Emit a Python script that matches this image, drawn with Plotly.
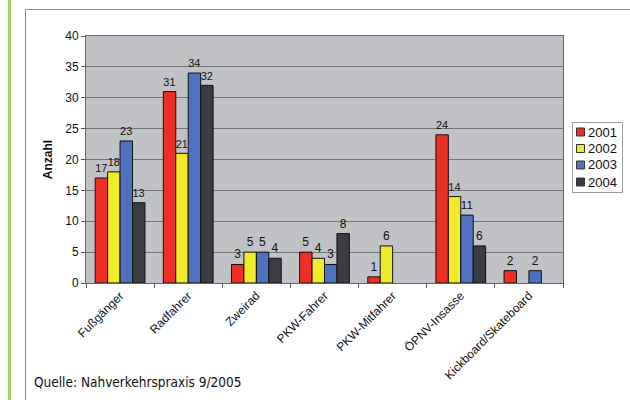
import plotly.graph_objects as go

categories = ["Fußgänger", "Radfahrer", "Zweirad", "PKW-Fahrer", "PKW-Mitfahrer", "ÖPNV-Insasse", "Kickboard/Skateboard"]
years = ["2001", "2002", "2003", "2004"]
v2001 = [17, 31, 3, 5, 1, 24, 2]
v2002 = [18, 21, 5, 4, 6, 14, None]
v2003 = [23, 34, 5, 3, None, 11, 2]
v2004 = [13, 32, 4, 8, None, 6, None]
series = [v2001, v2002, v2003, v2004]
colors = ["#ee2f24", "#f0ea2c", "#4f72bf", "#3b3d40"]

W, H = 630, 400
L, R, T, B = 86, 67, 36, 117
pw, ph = W - L - R, H - T - B

def px(x):
    return (x - L) / pw

def py(y):
    return (H - B - y) / ph

FONT = "Arial, Liberation Sans, sans-serif"

fig = go.Figure()
for name, vals, col in zip(years, series, colors):
    fig.add_trace(go.Bar(
        name=name, x=categories, y=vals,
        marker=dict(color=col, line=dict(color="#111111", width=1)),
        text=[("" if v is None else str(v)) for v in vals],
        textposition="outside", textfont=dict(family=FONT, size=12, color="#111111"),
        cliponaxis=False, showlegend=False,
    ))

fig.update_layout(
    width=W, height=H, margin=dict(l=L, r=R, t=T, b=B, autoexpand=False),
    paper_bgcolor="white", plot_bgcolor="#c0c2c5",
    barmode="group", bargap=0.27, bargroupgap=0,
    font=dict(family=FONT, size=12, color="#111111"),
    uniformtext=dict(mode=False),
)
fig.update_xaxes(
    type="category", tickson="boundaries", ticks="outside", ticklen=4, tickcolor="#555555",
    tickangle=-45, tickfont=dict(size=12, family=FONT),
    showline=True, linecolor="#666666", linewidth=1, mirror=True, showgrid=False,
)
fig.update_yaxes(
    range=[0, 40], dtick=5, ticks="outside", ticklen=4, tickcolor="#555555",
    tickfont=dict(size=12, family=FONT),
    showgrid=True, gridcolor="#747578", gridwidth=1,
    showline=True, linecolor="#666666", linewidth=1, mirror=True, zeroline=False,
    title=dict(text="<b>Anzahl</b>", font=dict(size=12), standoff=10),
)

shapes = [
    dict(type="rect", xref="paper", yref="paper", x0=px(8), x1=px(11), y0=py(400), y1=py(0),
         fillcolor="#a8d06e", line=dict(width=0), layer="below"),
    dict(type="line", xref="paper", yref="paper", x0=px(25.5), x1=px(25.5), y0=py(400), y1=py(9.5),
         line=dict(color="#8a8a8a", width=1)),
    dict(type="line", xref="paper", yref="paper", x0=px(25.5), x1=px(631), y0=py(9.5), y1=py(9.5),
         line=dict(color="#8a8a8a", width=1)),
    # legend box
    dict(type="rect", xref="paper", yref="paper", x0=px(572.5), x1=px(622.5), y0=py(192.5), y1=py(122.5),
         fillcolor="white", line=dict(color="#9a9a9a", width=1)),
]
legend_y = [132, 148.5, 165, 182]
for name, col, yc in zip(years, colors, legend_y):
    shapes.append(dict(type="rect", xref="paper", yref="paper",
                       x0=px(576.5), x1=px(584.5), y0=py(yc + 4), y1=py(yc - 4),
                       fillcolor=col, line=dict(color="#333333", width=1)))
    fig.add_annotation(text=name, xref="paper", yref="paper", x=px(586), y=py(yc),
                       xanchor="left", yanchor="middle", showarrow=False,
                       font=dict(family=FONT, size=13, color="#111111"))
fig.update_layout(shapes=shapes)

fig.add_annotation(
    text="Quelle: Nahverkehrspraxis 9/2005", xref="paper", yref="paper",
    x=px(32), y=py(382), xanchor="left", yanchor="middle", showarrow=False,
    font=dict(family="DejaVu Sans Condensed, Arial Narrow, sans-serif", size=13.5, color="#111111"),
)

fig.write_html("out.html")
